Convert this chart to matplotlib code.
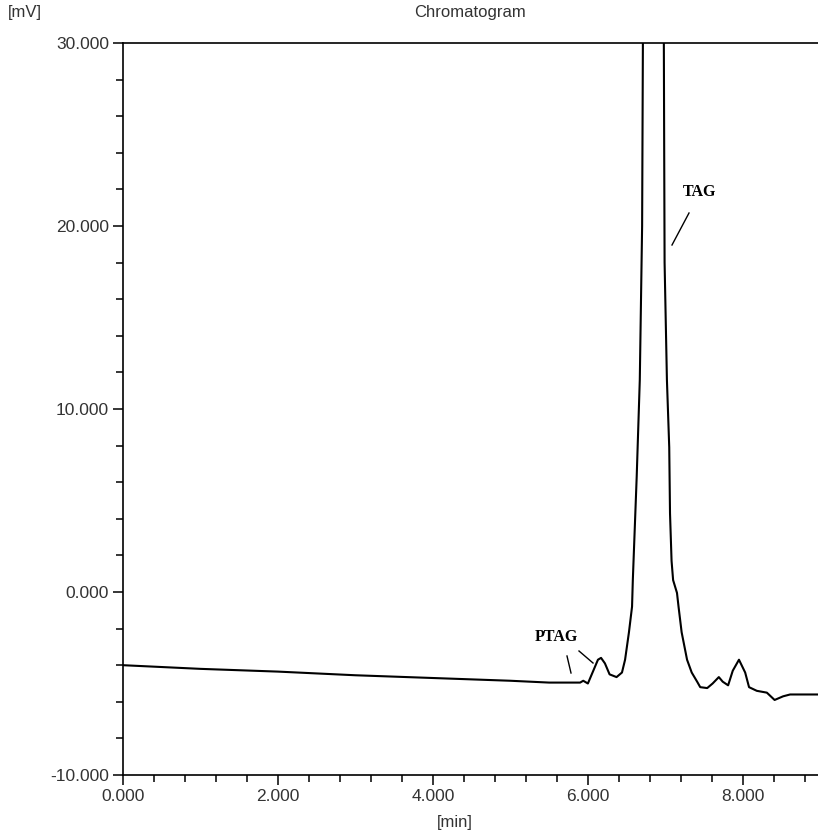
import matplotlib
matplotlib.use("Agg")
import matplotlib.pyplot as plt
from matplotlib.ticker import MultipleLocator, FormatStrFormatter

# chromatogram trace (time in min, signal in mV)
time_min = [0.0, 1.0, 2.0, 3.0, 4.0, 5.0, 5.5, 5.9, 5.94, 6.0, 6.06, 6.13, 6.17,
            6.22, 6.28, 6.37, 6.44, 6.48, 6.53, 6.57, 6.58, 6.63, 6.67, 6.70,
            6.71, 6.84, 6.98, 6.985, 6.99, 7.02, 7.05, 7.06, 7.08, 7.10, 7.15,
            7.17, 7.21, 7.28, 7.34, 7.41, 7.45, 7.54, 7.61, 7.69, 7.74, 7.81,
            7.87, 7.95, 8.03, 8.08, 8.18, 8.31, 8.41, 8.52, 8.61, 9.0]
signal_mv = [-4.0, -4.2, -4.35, -4.55, -4.7, -4.85, -4.95, -4.95, -4.85, -5.0,
             -4.4, -3.7, -3.6, -3.9, -4.5, -4.65, -4.4, -3.7, -2.2, -0.8, 0.65,
             6.3, 11.6, 20.0, 30.0, 150.0, 30.5, 24.0, 18.0, 11.6, 7.9, 4.3,
             1.7, 0.65, -0.05, -0.8, -2.2, -3.7, -4.4, -4.9, -5.2, -5.25, -5.0,
             -4.65, -4.9, -5.1, -4.3, -3.7, -4.4, -5.2, -5.4, -5.5, -5.9, -5.7,
             -5.6, -5.6]

W, H = 818, 832
fig = plt.figure(figsize=(W / 100, H / 100), dpi=100)
ax = fig.add_axes([123 / W, 1 - 775 / H, 1 - 123 / W, (775 - 43) / H])

ax.plot(time_min, signal_mv, color="black", lw=1.5)
ax.set_xlim(0, 8.97)
ax.set_ylim(-10, 30)

ax.xaxis.set_major_locator(MultipleLocator(2))
ax.xaxis.set_minor_locator(MultipleLocator(0.4))
ax.yaxis.set_major_locator(MultipleLocator(10))
ax.yaxis.set_minor_locator(MultipleLocator(2))
ax.xaxis.set_major_formatter(FormatStrFormatter("%.3f"))
ax.yaxis.set_major_formatter(FormatStrFormatter("%.3f"))

txt = "#333333"
ax.tick_params(which="major", direction="out", length=7, width=1.1,
               labelsize=12.5, labelcolor=txt, pad=3)
ax.tick_params(which="minor", direction="out", length=5, width=1.1)
for s in ["left", "bottom", "top"]:
    ax.spines[s].set_linewidth(1.2)
ax.spines["right"].set_visible(False)

for lab in ax.get_xticklabels() + ax.get_yticklabels():
    lab.set_family("Liberation Sans")

fig.text(8 / W, 1 - 13 / H, "[mV]", ha="left", va="center", fontsize=12,
         color=txt, family="Liberation Sans")
fig.text(470 / W, 1 - 13 / H, "Chromatogram", ha="center", va="center",
         fontsize=12, color=txt, family="Liberation Sans")
fig.text(455 / W, 1 - 822 / H, "[min]", ha="center", va="center",
         fontsize=12, color=txt, family="Liberation Sans")

# peak labels with their leader lines (figure pixel coordinates)
def px(x, y):
    return x / W, 1 - y / H

fig.text(*px(700, 192), "TAG", ha="center", va="center", fontsize=11.5,
         fontweight="bold", family="Liberation Serif")
fig.add_artist(plt.Line2D(*zip(px(689, 213), px(672, 245)), color="black", lw=1))
fig.text(*px(556, 637), "PTAG", ha="center", va="center", fontsize=11.5,
         fontweight="bold", family="Liberation Serif")
fig.add_artist(plt.Line2D(*zip(px(567, 656), px(571, 673)), color="black", lw=1))
fig.add_artist(plt.Line2D(*zip(px(579, 651), px(593, 663)), color="black", lw=1))

fig.savefig("out.png", dpi=100)
